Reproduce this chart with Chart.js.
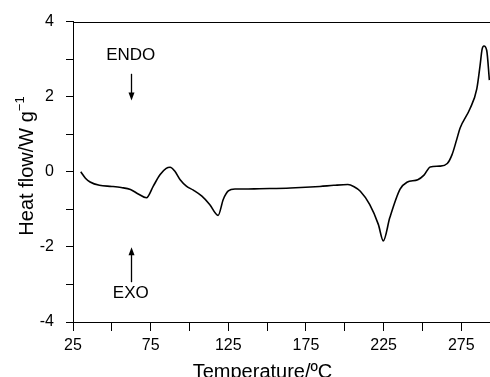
<!DOCTYPE html>
<html>
<head>
<meta charset="utf-8">
<script src="https://cdn.jsdelivr.net/npm/chart.js@4/dist/chart.umd.min.js"></script>
<style>
  html, body { margin: 0; padding: 0; background: #fff; }
  #wrap { width: 490px; height: 377px; position: relative; }
</style>
</head>
<body>
<div id="wrap"><canvas id="dsc"></canvas></div>
<script>
// DSC curve
const temperature = [30, 33, 36, 42, 50, 56, 62, 67, 72.3, 76.7,
  81, 85, 87.5, 90.5, 94, 98, 102.5, 108, 113, 118.4,
  121.8, 125, 129.3, 135, 145, 165, 184, 193, 202, 206,
  210, 216, 221.6, 224.8, 229, 235.6, 240, 247, 251, 255,
  261, 266, 269, 272, 274.2, 280.6, 285, 287.1, 288.4, 289.6,
  291.4, 293.1];
const heatFlow = [0.0, -0.17, -0.27, -0.36, -0.39, -0.42, -0.47, -0.59, -0.69, -0.38,
  -0.08, 0.09, 0.12, 0.02, -0.21, -0.38, -0.49, -0.65, -0.87, -1.16,
  -0.73, -0.51, -0.46, -0.46, -0.45, -0.43, -0.39, -0.36, -0.34, -0.40,
  -0.52, -0.87, -1.40, -1.84, -1.22, -0.46, -0.28, -0.21, -0.09, 0.13,
  0.15, 0.22, 0.45, 0.85, 1.16, 1.68, 2.21, 2.83, 3.26, 3.35,
  3.23, 2.44];

// axes
const xTickValues = [25, 50, 75, 100, 125, 150, 175, 200, 225, 250, 275];
const xLabelValues = [25, 75, 125, 175, 225, 275];
const yLabelValues = [-4, -2, 0, 2, 4];
const xTitle = 'Temperature/ºC';
const yTitle = 'Heat flow/W g';
const yTitleSup = '−1';

// ENDO / EXO markers (data units)
const markerTexts = ['ENDO', 'EXO'];
const markerTextAt = [[62.2, 3.09], [62.2, -3.23]];
const arrowFrom = [[62.2, 2.61], [62.2, -2.94]];
const arrowTo = [[62.2, 1.90], [62.2, -2.01]];

const FONT = '"Liberation Sans", Arial, sans-serif';

const extrasPlugin = {
  id: 'extras',
  afterDraw(chart) {
    const { ctx, chartArea, scales: { x, y } } = chart;
    ctx.save();
    ctx.strokeStyle = '#000';
    ctx.fillStyle = '#000';

    // top frame line
    ctx.lineWidth = 1;
    ctx.beginPath();
    ctx.moveTo(chartArea.left, Math.round(chartArea.top) + 0.5);
    ctx.lineTo(chartArea.right, Math.round(chartArea.top) + 0.5);
    ctx.stroke();

    // markers
    ctx.font = '17px ' + FONT;
    ctx.textAlign = 'center';
    ctx.textBaseline = 'middle';
    markerTexts.forEach((t, i) => {
      ctx.fillText(t, x.getPixelForValue(markerTextAt[i][0]), y.getPixelForValue(markerTextAt[i][1]));
      const px = Math.round(x.getPixelForValue(arrowFrom[i][0])) + 0.5;
      const y0 = y.getPixelForValue(arrowFrom[i][1]);
      const y1 = y.getPixelForValue(arrowTo[i][1]);
      const dir = Math.sign(y1 - y0);
      ctx.lineWidth = 1.3;
      ctx.beginPath();
      ctx.moveTo(px, y0);
      ctx.lineTo(px, y1 - dir * 6);
      ctx.stroke();
      ctx.beginPath();
      ctx.moveTo(px, y1);
      ctx.lineTo(px - 3, y1 - dir * 8);
      ctx.lineTo(px + 3, y1 - dir * 8);
      ctx.closePath();
      ctx.fill();
    });

    // x title
    ctx.font = '20px ' + FONT;
    ctx.textAlign = 'center';
    ctx.textBaseline = 'alphabetic';
    ctx.fillText(xTitle, 262.5, 378);

    // y title with superscript
    ctx.translate(33, 166);
    ctx.rotate(-Math.PI / 2);
    ctx.font = '20px ' + FONT;
    const mainW = ctx.measureText(yTitle).width;
    ctx.font = '13px ' + FONT;
    const supW = ctx.measureText(yTitleSup).width;
    const start = -(mainW + supW) / 2;
    ctx.textAlign = 'left';
    ctx.font = '20px ' + FONT;
    ctx.fillText(yTitle, start, 0);
    ctx.font = '13px ' + FONT;
    ctx.fillText(yTitleSup, start + mainW, -9);
    ctx.restore();
  }
};

new Chart(document.getElementById('dsc'), {
  type: 'line',
  data: {
    datasets: [{
      data: temperature.map((t, i) => ({ x: t, y: heatFlow[i] })),
      borderColor: '#000',
      borderWidth: 1.6,
      pointRadius: 0,
      fill: false,
      cubicInterpolationMode: 'monotone'
    }]
  },
  options: {
    responsive: true,
    maintainAspectRatio: false,
    animation: false,
    layout: { padding: { top: 19, right: 0, left: 0, bottom: 0 } },
    plugins: {
      legend: { display: false },
      tooltip: { enabled: false }
    },
    scales: {
      x: {
        type: 'linear',
        min: 25,
        max: 293.5,
        afterBuildTicks: (scale) => { scale.ticks = xTickValues.map(v => ({ value: v })); },
        afterFit: (scale) => { scale.height = 55; },
        ticks: {
          color: '#000',
          font: { family: FONT, size: 16 },
          padding: 5,
          maxRotation: 0,
          autoSkip: false,
          callback: (v) => xLabelValues.includes(v) ? String(v) : ''
        },
        grid: { drawOnChartArea: false, drawTicks: true, tickLength: 9, tickColor: '#000', tickWidth: 1 },
        border: { display: true, color: '#000', width: 1 }
      },
      y: {
        min: -4,
        max: 4,
        afterFit: (scale) => { scale.width = 73; },
        ticks: {
          stepSize: 1,
          color: '#000',
          font: { family: FONT, size: 16 },
          padding: 12,
          callback: (v) => yLabelValues.includes(v) ? String(v) : ''
        },
        grid: { drawOnChartArea: false, drawTicks: true, tickLength: 7, tickColor: '#000', tickWidth: 1 },
        border: { display: true, color: '#000', width: 1 }
      }
    }
  },
  plugins: [extrasPlugin]
});
</script>
</body>
</html>
